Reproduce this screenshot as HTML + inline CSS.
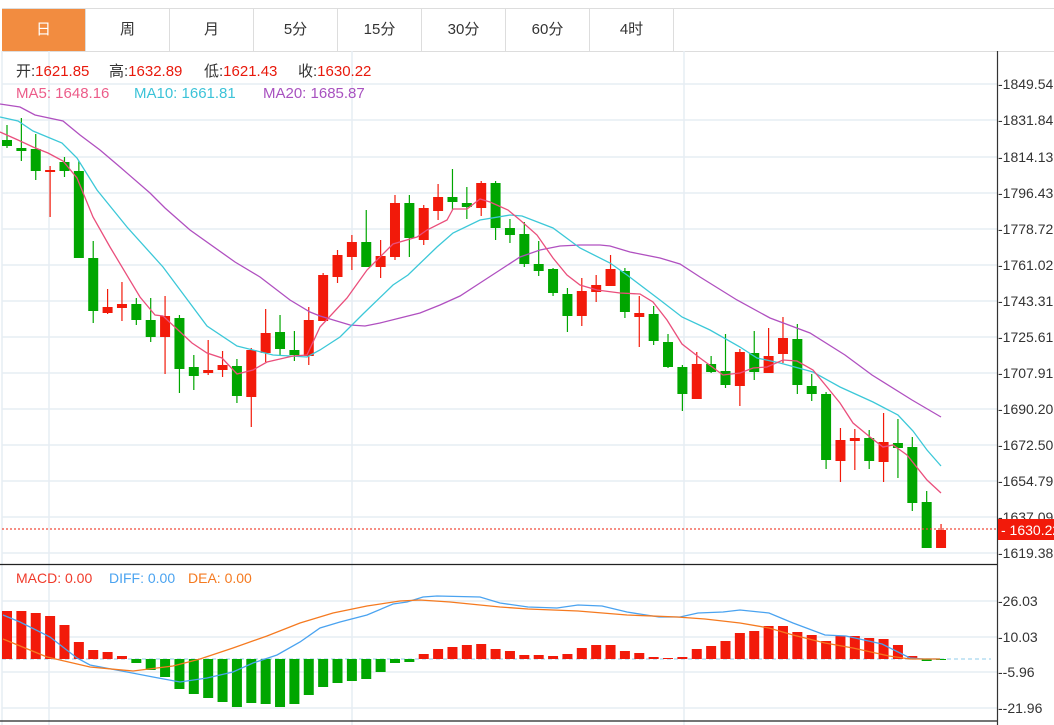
<!DOCTYPE html>
<html><head><meta charset="utf-8"><style>
html,body{margin:0;padding:0;background:#fff;width:1054px;height:725px;overflow:hidden;font-family:"Liberation Sans","Noto Sans CJK SC",sans-serif}
.tabs{position:absolute;left:2px;top:8px;height:42px;width:1052px;border-top:1px solid #ddd;border-bottom:1px solid #ddd;display:flex}
.tab{width:83px;border-right:1px solid #ddd;text-align:center;line-height:42px;font-size:15px;color:#333}
.tab.on{background:#f28c40;color:#fff}
</style></head><body>
<div class="tabs"><div class="tab on">日</div><div class="tab">周</div><div class="tab">月</div><div class="tab">5分</div><div class="tab">15分</div><div class="tab">30分</div><div class="tab">60分</div><div class="tab">4时</div></div>
<svg width="1054" height="725" style="position:absolute;left:0;top:0" xmlns="http://www.w3.org/2000/svg" font-family="Liberation Sans, Noto Sans CJK SC, sans-serif">
<g stroke="#e6edf3" stroke-width="1.5">
<line x1="2" y1="84" x2="997" y2="84"/><line x1="2" y1="120" x2="997" y2="120"/><line x1="2" y1="157" x2="997" y2="157"/><line x1="2" y1="193" x2="997" y2="193"/><line x1="2" y1="229" x2="997" y2="229"/><line x1="2" y1="265" x2="997" y2="265"/><line x1="2" y1="301" x2="997" y2="301"/><line x1="2" y1="337" x2="997" y2="337"/><line x1="2" y1="373" x2="997" y2="373"/><line x1="2" y1="409" x2="997" y2="409"/><line x1="2" y1="445" x2="997" y2="445"/><line x1="2" y1="481" x2="997" y2="481"/><line x1="2" y1="517" x2="997" y2="517"/><line x1="2" y1="553" x2="997" y2="553"/>
<line x1="2" y1="601" x2="997" y2="601"/><line x1="2" y1="637" x2="997" y2="637"/><line x1="2" y1="672" x2="997" y2="672"/><line x1="2" y1="708" x2="997" y2="708"/>
<line x1="49" y1="51" x2="49" y2="725"/><line x1="352" y1="51" x2="352" y2="725"/><line x1="684" y1="51" x2="684" y2="725"/>
<line x1="2" y1="51" x2="2" y2="725"/>
</g>
<g font-size="15" fill="#333">
<text x="16" y="76">开:<tspan fill="#e8190c">1621.85</tspan></text>
<text x="109" y="76">高:<tspan fill="#e8190c">1632.89</tspan></text>
<text x="204" y="76">低:<tspan fill="#e8190c">1621.43</tspan></text>
<text x="298" y="76">收:<tspan fill="#e8190c">1630.22</tspan></text>
<text x="16" y="98" fill="#ec5d8a">MA5: 1648.16</text>
<text x="134" y="98" fill="#3cc3d8">MA10: 1661.81</text>
<text x="263" y="98" fill="#a852c0">MA20: 1685.87</text>
</g>
<g id="c" stroke-width="1.2"></g>
<g fill="none" stroke-width="1.3">
<polyline stroke="#b050c0" points="0,104 20,107 35,115 63,121 80,135 100,150 120,167 150,193 165,208 190,230 235,262 260,277 290,300 310,312 320,316 350,325 365,326 380,323 400,318 420,313 440,305 460,296 480,283 500,270 520,257 540,250 560,246 580,245 600,245 610,246 630,252 660,258 680,264 700,277 737,300 770,318 810,333 845,355 872,375 912,400 941,417"/>
<polyline stroke="#3cc8d8" points="0,117 18,121 33,131 62,143 77,158 97,190 127,227 163,267 207,326 237,346 273,355 307,357 320,350 340,337 363,314 393,285 408,275 437,247 453,233 480,220 510,215 522,216 553,228 580,248 610,263 627,275 660,300 682,317 710,330 740,347 757,358 780,363 813,372 840,387 873,402 898,415 913,431 927,450 941,466"/>
<polyline stroke="#ea4f7c" points="0,132 18,140 33,147 48,153 63,161 77,178 93,217 110,247 140,297 155,315 163,316 192,343 207,353 222,358 237,374 253,370 267,362 293,356 307,355 320,327 347,298 367,270 393,244 417,237 427,230 447,220 453,209 467,209 480,199 490,202 508,210 520,220 537,235 553,258 567,275 580,285 597,290 620,293 640,294 653,302 667,320 682,344 700,358 723,375 740,373 753,368 767,367 783,360 797,361 813,370 827,387 840,403 853,423 870,437 883,447 893,445 907,455 927,480 941,493"/>
</g>
<line x1="2" y1="529" x2="997" y2="529" stroke="#f04a3a" stroke-width="1.3" stroke-dasharray="2,2"/>
<line x1="0" y1="564.5" x2="997" y2="564.5" stroke="#222" stroke-width="1.3"/>
<line x1="0" y1="721" x2="997" y2="721" stroke="#222" stroke-width="1.3"/>
<line x1="997.5" y1="51" x2="997.5" y2="725" stroke="#333" stroke-width="1.2"/>
<g font-size="14" fill="#333" id="ax"></g>
<rect x="998" y="519" width="56" height="21" fill="#f21a0a"/>
<text x="1001" y="535" font-size="14" fill="#fff">- 1630.22</text>
<g font-size="14">
<text x="16" y="583" fill="#f03a2a">MACD: 0.00</text>
<text x="109" y="583" fill="#4aa3f0">DIFF: 0.00</text>
<text x="188" y="583" fill="#f57a20">DEA: 0.00</text>
</g>
<line x1="2" y1="659" x2="991" y2="659" stroke="#a8d8ef" stroke-width="1.3" stroke-dasharray="4,3"/>
<g id="m"></g>
<g fill="none" stroke-width="1.3">
<polyline stroke="#4aa3f0" points="3,615 20,622 50,637 77,658 90,665 127,672 153,677 180,682 207,678 233,672 253,663 277,655 300,642 320,628 340,622 367,615 393,604 407,602 423,597 437,596 480,597 500,603 528,607 557,608 578,605 602,606 627,612 659,617 680,617 698,613 723,612 740,610 769,613 793,623 825,635 846,636 882,644 910,658 924,659 940,659"/>
<polyline stroke="#f57a20" points="3,639 47,657 90,667 133,671 173,666 200,659 233,648 267,636 300,623 333,613 367,606 400,601 420,600 450,602 500,607 528,609 578,611 627,615 677,617 705,619 740,623 769,628 793,635 825,643 853,648 889,656 910,659 940,659"/>
</g>
</svg>
<script>
var C=[["g",125,148,140,146],["g",118,161,148,151],["g",134,180,149,171],["r",166,217,170,172],["g",157,177,162,171],["g",161,258,171,258],["g",241,323,258,311],["r",289,314,307,313],["r",282,321,304,308],["g",298,325,304,320],["g",298,342,320,337],["r",296,374,316,337],["g",315,393,318,369],["g",355,390,367,376],["r",340,375,370,373],["r",351,377,365,370],["g",359,403,366,396],["r",348,427,350,397],["r",309,362,333,353],["g",315,355,332,349],["g",331,361,350,355],["r",307,365,320,356],["r",273,321,275,321],["r",250,283,255,277],["r",235,270,242,257],["g",210,267,242,267],["r",240,278,256,267],["r",195,260,203,257],["g",195,257,203,238],["r",205,245,208,240],["r",184,220,197,211],["g",169,210,197,202],["g",187,219,203,207],["r",181,216,183,208],["g",181,240,183,228],["g",219,243,228,235],["g",222,267,234,264],["g",241,276,264,271],["g",268,296,269,293],["g",288,332,294,316],["r",278,326,291,316],["r",275,302,285,292],["r",255,286,269,286],["g",268,318,271,312],["r",296,347,313,317],["g",306,345,314,341],["g",334,368,342,367],["g",365,411,367,394],["r",352,399,364,399],["g",356,373,364,372],["g",334,388,371,385],["r",349,406,352,386],["g",331,380,353,372],["r",328,373,356,373],["r",317,363,338,354],["g",324,394,339,385],["g",374,401,386,394],["g",392,469,394,460],["r",428,482,440,461],["r",429,470,438,441],["g",430,469,438,461],["r",413,482,442,462],["g",419,478,443,448],["g",437,511,447,503],["g",491,548,502,548],["r",524,548,530,548]];
var M=[611,611,613,616,625,642,650,652,656,663,670,677,689,694,698,702,707,703,704,707,704,695,687,683,681,679,672,663,662,654,649,647,645,644,649,651,655,655,656,654,648,645,645,651,653,657,658,657,649,646,641,633,631,626,626,632,635,641,636,636,638,639,645,656,661,659];
var s="";
for(var i=0;i<C.length;i++){var c=C[i],x=7+i*14.37,col=c[0]=="r"?"#f21a0a":"#00a600";
s+='<line x1="'+x+'" x2="'+x+'" y1="'+c[1]+'" y2="'+c[2]+'" stroke="'+col+'"/>';
s+='<rect x="'+(x-5)+'" y="'+c[3]+'" width="10" height="'+Math.max(2,c[4]-c[3])+'" fill="'+col+'"/>';}
document.getElementById("c").innerHTML=s;s="";
for(i=0;i<M.length;i++){var x=7+i*14.37,y=M[i],t=Math.min(y,659),h=Math.max(1,Math.abs(y-659));
s+='<rect x="'+(x-5)+'" y="'+t+'" width="10" height="'+h+'" fill="'+(y<659?"#f21a0a":"#00a600")+'"/>';}
document.getElementById("m").innerHTML=s;s="";
var L=[[84,"1849.54"],[120,"1831.84"],[157,"1814.13"],[193,"1796.43"],[229,"1778.72"],[265,"1761.02"],[301,"1743.31"],[337,"1725.61"],[373,"1707.91"],[409,"1690.20"],[445,"1672.50"],[481,"1654.79"],[517,"1637.09"],[553,"1619.38"],[601,"26.03"],[637,"10.03"],[672,"-5.96"],[708,"-21.96"]];
for(i=0;i<L.length;i++)s+='<text x="998" y="'+(L[i][0]+5)+'">-'+L[i][1]+'</text>';
document.getElementById("ax").innerHTML=s;
</script>
</body></html>
